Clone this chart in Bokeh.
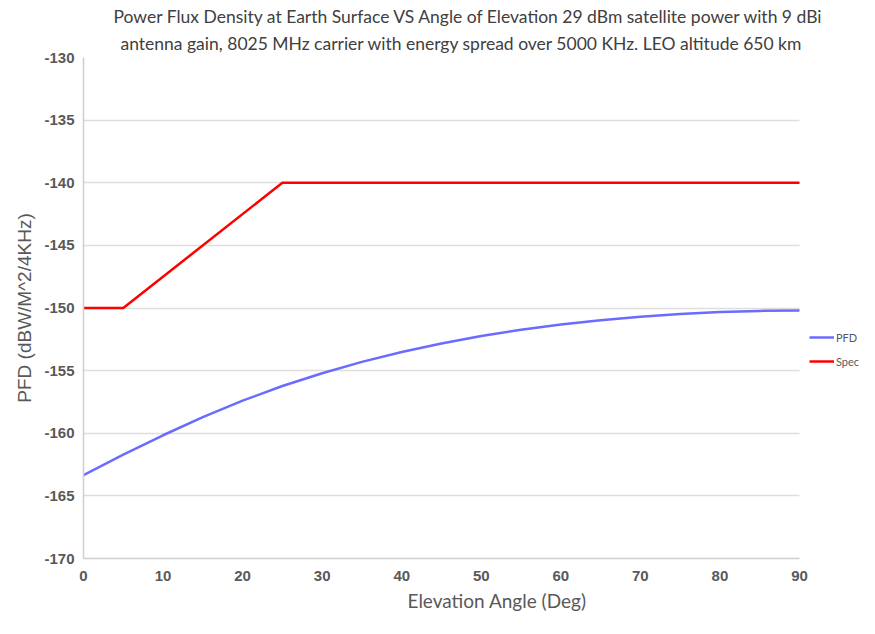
from bokeh.plotting import figure
from bokeh.models import Title, Legend, LegendItem, FixedTicker, Range1d, BoxAnnotation
from bokeh.embed import file_html
from bokeh.resources import INLINE

# ---- data ----
title_line1 = "Power Flux Density at Earth Surface VS Angle of Elevation 29 dBm satellite power with 9 dBi"
title_line2 = "antenna gain, 8025 MHz carrier with energy spread over 5000 KHz.  LEO altitude 650 km"
x_label = "Elevation Angle (Deg)"
y_label = "PFD (dBW/M^2/4KHz)"

pfd_angle = [0, 5, 10, 15, 20, 25, 30, 35, 40, 45, 50, 55, 60, 65, 70, 75, 80, 85, 90]
pfd_value = [-163.34, -161.71, -160.16, -158.71, -157.40, -156.23, -155.21, -154.30,
             -153.52, -152.83, -152.24, -151.74, -151.32, -150.97, -150.69, -150.47,
             -150.32, -150.23, -150.20]

spec_angle = [0, 5, 25, 90]
spec_value = [-150, -150, -140, -140]

x_ticks = [0, 10, 20, 30, 40, 50, 60, 70, 80, 90]
y_ticks = [-170, -165, -160, -155, -150, -145, -140, -135, -130]
y_tick_labels = ["-170", "-165", "-160", "-155", "-150", "-145", "-140", "-135", "-130"]

X_MIN, X_MAX = 0, 90
Y_MIN, Y_MAX = -170, -130

# ---- layout (pixels) ----
W, H = 859, 618
LEFT, TOP, BOTTOM = 83, 57, 60
PLOT_W = 716          # width of the data area (0..90)
FRAME_W = W - LEFT    # frame extends to the right edge to host the legend
x_end = X_MAX * FRAME_W / PLOT_W

p = figure(width=W, height=H, output_backend="svg", toolbar_location=None,
           x_range=Range1d(X_MIN, x_end), y_range=Range1d(Y_MIN, Y_MAX),
           min_border_left=LEFT, min_border_right=0, min_border_top=TOP, min_border_bottom=BOTTOM)
p.outline_line_color = None
p.background_fill_color = "white"

GRAY = "#595959"

t2 = Title(text=title_line2, align="left", offset=37, text_font="Lato", text_font_size="17.5px",
           text_font_style="normal", text_color="#404040", standoff=7)
t1 = Title(text=title_line1, align="left", offset=30, text_font="Lato", text_font_size="17.5px",
           text_font_style="normal", text_color="#404040", standoff=2)
p.add_layout(t2, "above")
p.add_layout(t1, "above")

xl = Title(text=x_label, align="left", offset=324, text_font="Lato", text_font_size="19px",
           text_font_style="normal", text_color=GRAY, standoff=6)
p.add_layout(xl, "below")

p.xaxis.ticker = FixedTicker(ticks=x_ticks)
p.xaxis.bounds = (X_MIN, X_MAX)
p.yaxis.ticker = FixedTicker(ticks=y_ticks)
p.yaxis.major_label_overrides = {t: s for t, s in zip(y_ticks, y_tick_labels)}
for ax in (p.xaxis, p.yaxis):
    ax.major_tick_line_color = None
    ax.minor_tick_line_color = None
    ax.major_tick_out = 0
    ax.major_tick_in = 0
    ax.axis_line_color = "#cfcfcf"
    ax.axis_line_width = 1.5
    ax.major_label_text_font = "Liberation Sans"
    ax.major_label_text_font_style = "bold"
    ax.major_label_text_font_size = "15px"
    ax.major_label_text_color = GRAY
p.xaxis.major_label_standoff = 12
p.yaxis.major_label_standoff = 9
p.yaxis.axis_label = y_label
p.yaxis.axis_label_text_font = "Liberation Sans"
p.yaxis.axis_label_text_font_style = "normal"
p.yaxis.axis_label_text_font_size = "19px"
p.yaxis.axis_label_text_color = GRAY
p.yaxis.axis_label_standoff = 6

p.xgrid.grid_line_color = None
p.ygrid.grid_line_color = "#dedede"
p.ygrid.grid_line_width = 1.5
g = p.ygrid[0]
if "cross_bounds" in g.properties():
    g.cross_bounds = (X_MIN, X_MAX)
else:
    p.add_layout(BoxAnnotation(left=X_MAX + 0.1, fill_color="white", fill_alpha=1,
                               line_color=None, level="underlay"))

r_pfd = p.line(pfd_angle, pfd_value, line_color="#6b6bff", line_width=2.5)
r_spec = p.line(spec_angle, spec_value, line_color="#ff0000", line_width=2.5)

legend = Legend(items=[LegendItem(label="PFD", renderers=[r_pfd]),
                       LegendItem(label="Spec", renderers=[r_spec])],
                location=(726, 188), orientation="vertical",
                border_line_color=None, background_fill_alpha=0,
                padding=0, margin=0, spacing=6,
                glyph_width=25, glyph_height=18, label_height=18,
                label_standoff=2, label_text_font="Lato", label_text_font_size="11px",
                label_text_color=GRAY)
p.add_layout(legend, "center")

open("out.html", "w").write(file_html(p, INLINE))
